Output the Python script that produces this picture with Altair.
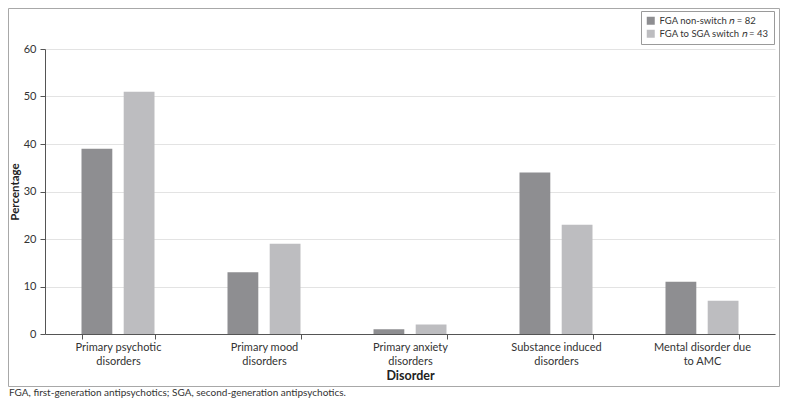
import altair as alt
import pandas as pd

categories = [
    "Primary psychotic|disorders",
    "Primary mood|disorders",
    "Primary anxiety|disorders",
    "Substance induced|disorders",
    "Mental disorder due|to AMC",
]
series = ["FGA non-switch 𝑛 = 82", "FGA to SGA switch 𝑛 = 43"]
non_switch = [39, 13, 1, 34, 11]
switch = [51, 19, 2, 23, 7]
colors = ["#8e8e91", "#bdbdc0"]
footnote = "FGA, first-generation antipsychotics; SGA, second-generation antipsychotics."

rows = []
for c, a, b in zip(categories, non_switch, switch):
    rows.append({"Disorder": c, "Group": series[0], "Percentage": a})
    rows.append({"Disorder": c, "Group": series[1], "Percentage": b})
df = pd.DataFrame(rows)

FONT = "Lato"

frame = alt.Chart(pd.DataFrame({"a": [0]})).mark_rect(
    fill="white", fillOpacity=0, stroke="#a8a8a8", strokeWidth=1
).encode(
    x=alt.value(-36.5), x2=alt.value(734.5), y=alt.value(-40.5), y2=alt.value(337.5)
)

bars = alt.Chart(df).mark_bar().encode(
    x=alt.X(
        "Disorder:N",
        sort=categories,
        scale=alt.Scale(paddingInner=0.5, paddingOuter=0.25),
        axis=alt.Axis(
            title="Disorder",
            labelAngle=0,
            labelExpr="split(datum.label, '|')",
            labelFontSize=11,
            labelColor="#333333",
            labelPadding=2,
            labelLineHeight=14,
            tickBand="extent",
            tickSize=5,
            tickColor="#555555",
            domainColor="#555555",
            titleFontSize=12.5,
            titleFontWeight="bold",
            titleColor="#222222",
            titlePadding=3,
            grid=False,
        ),
    ),
    xOffset=alt.XOffset("Group:N", sort=series, scale=alt.Scale(paddingInner=0.27)),
    y=alt.Y(
        "Percentage:Q",
        scale=alt.Scale(domain=[0, 60]),
        axis=alt.Axis(
            title="Percentage",
            values=[0, 10, 20, 30, 40, 50, 60],
            labelFontSize=11,
            labelColor="#333333",
            labelPadding=4,
            tickSize=5,
            tickColor="#555555",
            domainColor="#555555",
            gridColor="#e3e3e3",
            titleFontSize=11.5,
            titleFontWeight="bold",
            titleColor="#222222",
            titlePadding=3,
        ),
    ),
    color=alt.Color(
        "Group:N",
        sort=series,
        scale=alt.Scale(domain=series, range=colors),
        legend=alt.Legend(
            title=None,
            orient="none",
            legendX=596,
            legendY=-38,
            symbolType="square",
            symbolSize=64,
            symbolStrokeWidth=0,
            labelFontSize=9.5,
            labelColor="#333333",
            labelFont=FONT,
            labelLimit=300,
            padding=5,
            rowPadding=2,
            strokeColor="#9a9a9a",
            fillColor="white",
        ),
    ),
)

note = alt.Chart(pd.DataFrame({"t": [footnote]})).mark_text(
    align="left", baseline="middle", fontSize=10, color="#333333", font=FONT
).encode(text="t:N", x=alt.value(-36), y=alt.value(344))

chart = alt.layer(frame, bars, note).properties(
    width=730,
    height=285,
    autosize=alt.AutoSizeParams(type="none"),
    padding={"left": 37, "top": 41, "right": 5, "bottom": 65},
).configure(font=FONT).configure_view(stroke=None)

chart.save("out.html", embed_options={"renderer": "svg", "actions": False})
